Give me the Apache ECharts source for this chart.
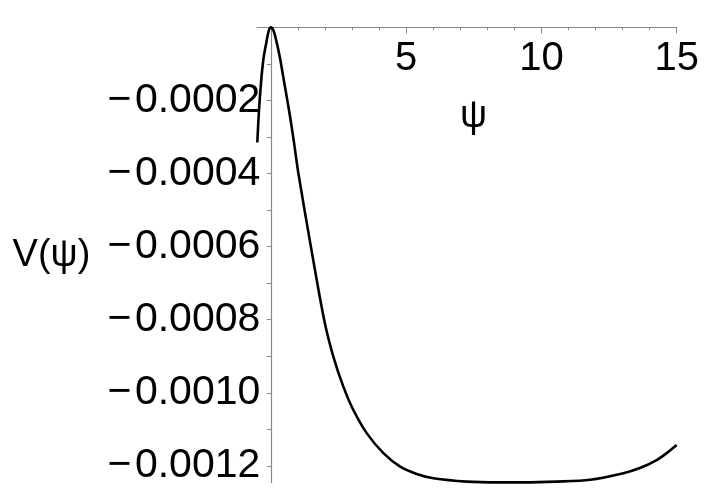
<!DOCTYPE html>
<html>
<head>
<meta charset="utf-8">
<script src="https://cdn.jsdelivr.net/npm/echarts@6/dist/echarts.min.js"></script>
<style>
  html, body { margin: 0; padding: 0; background: #fff; }
  #chart { width: 706px; height: 494px; }
</style>
</head>
<body>
<div id="chart"></div>
<script>
// curve: psi and V(psi)
const psiValues = [-0.5, -0.44, -0.36, -0.27, -0.16, -0.08, 0, 0.1, 0.21, 0.34, 0.49, 0.68, 0.85, 1.02,
  1.48, 1.97, 2.31, 2.68, 3.05, 3.55, 4.16, 4.78, 5.39, 6.01, 7.24, 8.47, 9.3, 10.57, 11.8, 13.03,
  13.64, 14.26, 14.63, 15]
const vValues = [-0.000315, -0.00023, -0.000149, -0.0000845, -0.000039, -0.00001, 0, -0.000009,
  -0.000039, -0.0000845, -0.000149, -0.00023, -0.000312, -0.0004, -0.0006, -0.0008, -0.000901,
  -0.000983, -0.001047, -0.001111, -0.001165, -0.001202, -0.001222, -0.001234, -0.001243, -0.001245,
  -0.001245, -0.001243, -0.001238, -0.00122, -0.001206, -0.001184, -0.001165, -0.001143]

const xMajorTicks = [5, 10, 15]
const xMinorTicks = [1, 2, 3, 4, 6, 7, 8, 9, 11, 12, 13, 14]
const yLabelTicks = [-0.0012, -0.001, -0.0008, -0.0006, -0.0004, -0.0002]
const yTicks = [-0.0012, -0.0011, -0.001, -0.0009, -0.0008, -0.0007, -0.0006, -0.0005, -0.0004,
  -0.0003, -0.0002, -0.0001]

const font = '"Liberation Sans", Arial, Helvetica, sans-serif'
const axisGray = '#888'

const chart = echarts.init(document.getElementById('chart'))

// y = 0 is the top of the range, so the psi axis sits on top with its ticks and labels turned inward
chart.setOption({
  animation: false,
  grid: { left: 257.3, right: 29.3, top: 27.4, bottom: 11.3, containLabel: false, outerBoundsMode: 'none' },
  graphic: [{
    type: 'text',
    left: 460,
    top: 98,
    silent: true,
    style: { text: 'ψ', fill: '#000', font: '38px ' + font }
  }],
  xAxis: [
    {
      type: 'value',
      min: -0.5,
      max: 15,
      position: 'top',
      axisLine: { onZero: false, lineStyle: { color: axisGray, width: 1.2 } },
      axisTick: { show: true, inside: true, length: 6, customValues: xMajorTicks, lineStyle: { color: axisGray } },
      axisLabel: {
        inside: true,
        customValues: xMajorTicks,
        margin: 12,
        color: '#000',
        fontSize: 40,
        fontFamily: font
      },
      splitLine: { show: false }
    },
    {
      type: 'value',
      min: -0.5,
      max: 15,
      position: 'top',
      axisLine: { show: false, onZero: false },
      axisTick: { show: true, inside: true, length: 3, customValues: xMinorTicks, lineStyle: { color: axisGray } },
      axisLabel: { show: false },
      splitLine: { show: false }
    }
  ],
  yAxis: {
    type: 'value',
    min: -0.001246,
    max: 0,
    position: 'left',
    axisLine: { onZero: true, lineStyle: { color: axisGray, width: 1.2 } },
    axisTick: { show: true, inside: false, length: 4, customValues: yTicks, lineStyle: { color: axisGray } },
    axisLabel: {
      customValues: yLabelTicks,
      margin: -3,
      color: '#000',
      fontSize: 41,
      fontFamily: font,
      formatter: v => '\u2212\u200a' + Math.abs(v).toFixed(4)
    },
    splitLine: { show: false },
    name: 'V(ψ)',
    nameLocation: 'middle',
    nameRotate: 0,
    nameGap: 167,
    nameTextStyle: { color: '#000', fontSize: 38, fontFamily: font, padding: [10, 0, 0, 0] }
  },
  series: [{
    type: 'line',
    xAxisIndex: 0,
    data: psiValues.map((p, i) => [p, vValues[i]]),
    showSymbol: false,
    smooth: 0.3,
    clip: false,
    lineStyle: { color: '#000', width: 2.6 }
  }]
})
</script>
</body>
</html>
